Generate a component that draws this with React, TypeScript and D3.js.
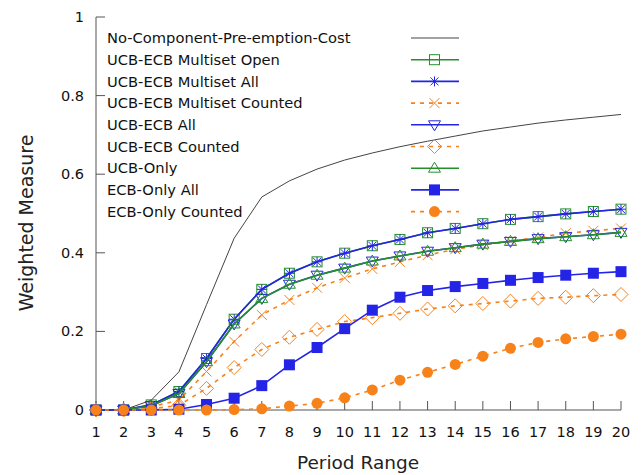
import React from "react";
import * as d3 from "d3";

const periods = [1, 2, 3, 4, 5, 6, 7, 8, 9, 10, 11, 12, 13, 14, 15, 16, 17, 18, 19, 20];
const yTicks = [0, 0.2, 0.4, 0.6, 0.8, 1];

const noPreemption = [0, 0, 0.025, 0.097, 0.268, 0.437, 0.542, 0.583, 0.613, 0.636, 0.654, 0.67, 0.684, 0.697, 0.71, 0.72, 0.73, 0.738, 0.745, 0.752];
const multisetOpen = [0, 0, 0.013, 0.047, 0.131, 0.231, 0.307, 0.348, 0.377, 0.399, 0.418, 0.434, 0.451, 0.462, 0.474, 0.485, 0.492, 0.499, 0.505, 0.511];
const multisetAll = [0, 0, 0.013, 0.047, 0.131, 0.231, 0.307, 0.348, 0.377, 0.399, 0.418, 0.434, 0.451, 0.462, 0.474, 0.485, 0.492, 0.499, 0.505, 0.511];
const multisetCounted = [0, 0, 0.008, 0.025, 0.098, 0.174, 0.242, 0.28, 0.311, 0.336, 0.359, 0.377, 0.394, 0.409, 0.42, 0.43, 0.439, 0.45, 0.456, 0.462];
const ucbEcbAll = [0, 0, 0.011, 0.042, 0.123, 0.219, 0.284, 0.32, 0.343, 0.361, 0.379, 0.392, 0.404, 0.413, 0.422, 0.429, 0.436, 0.441, 0.446, 0.452];
const ucbEcbCounted = [0, 0, 0.003, 0.012, 0.055, 0.108, 0.154, 0.185, 0.205, 0.225, 0.235, 0.246, 0.257, 0.265, 0.271, 0.277, 0.284, 0.287, 0.291, 0.294];
const ucbOnly = [0, 0, 0.011, 0.042, 0.123, 0.219, 0.284, 0.32, 0.343, 0.361, 0.379, 0.392, 0.404, 0.413, 0.422, 0.429, 0.436, 0.441, 0.446, 0.452];
const ecbOnlyAll = [0, 0, 0, 0.002, 0.014, 0.03, 0.062, 0.115, 0.159, 0.207, 0.254, 0.287, 0.304, 0.314, 0.322, 0.33, 0.337, 0.343, 0.348, 0.352];
const ecbOnlyCounted = [0, 0, 0, 0, 0, 0.001, 0.003, 0.01, 0.017, 0.031, 0.051, 0.076, 0.096, 0.116, 0.137, 0.157, 0.172, 0.181, 0.187, 0.193];

const GREEN = "#23902a";
const BLUE = "#2424e6";
const ORANGE = "#f7821a";
const BLACK = "#444";

type Marker = "none" | "square" | "star" | "x" | "tri-down" | "diamond" | "tri-up" | "square-fill" | "circle-fill";

const series: { name: string; values: number[]; color: string; dashed: boolean; marker: Marker; width: number }[] = [
  { name: "No-Component-Pre-emption-Cost", values: noPreemption, color: BLACK, dashed: false, marker: "none", width: 1 },
  { name: "UCB-ECB Multiset Open", values: multisetOpen, color: GREEN, dashed: false, marker: "square", width: 1.6 },
  { name: "UCB-ECB Multiset All", values: multisetAll, color: BLUE, dashed: false, marker: "star", width: 1.6 },
  { name: "UCB-ECB Multiset Counted", values: multisetCounted, color: ORANGE, dashed: true, marker: "x", width: 1.6 },
  { name: "UCB-ECB All", values: ucbEcbAll, color: BLUE, dashed: false, marker: "tri-down", width: 1.6 },
  { name: "UCB-ECB Counted", values: ucbEcbCounted, color: ORANGE, dashed: true, marker: "diamond", width: 1.6 },
  { name: "UCB-Only", values: ucbOnly, color: GREEN, dashed: false, marker: "tri-up", width: 1.6 },
  { name: "ECB-Only All", values: ecbOnlyAll, color: BLUE, dashed: false, marker: "square-fill", width: 1.6 },
  { name: "ECB-Only Counted", values: ecbOnlyCounted, color: ORANGE, dashed: true, marker: "circle-fill", width: 1.6 },
];

function MarkerShape({ type, x, y, color }: { type: Marker; x: number; y: number; color: string }) {
  const sw = 1;
  switch (type) {
    case "square":
      return <rect x={x - 5} y={y - 5} width={10} height={10} fill="none" stroke={color} strokeWidth={sw} />;
    case "star":
      return (
        <g stroke={color} strokeWidth={sw}>
          <line x1={x - 5} y1={y} x2={x + 5} y2={y} />
          <line x1={x} y1={y - 5} x2={x} y2={y + 5} />
          <line x1={x - 4} y1={y - 4} x2={x + 4} y2={y + 4} />
          <line x1={x - 4} y1={y + 4} x2={x + 4} y2={y - 4} />
        </g>
      );
    case "x":
      return (
        <g stroke={color} strokeWidth={sw}>
          <line x1={x - 5} y1={y - 5} x2={x + 5} y2={y + 5} />
          <line x1={x - 5} y1={y + 5} x2={x + 5} y2={y - 5} />
        </g>
      );
    case "tri-down":
      return <path d={`M${x - 6},${y - 4}L${x + 6},${y - 4}L${x},${y + 6}Z`} fill="none" stroke={color} strokeWidth={sw} />;
    case "tri-up":
      return <path d={`M${x - 6},${y + 4}L${x + 6},${y + 4}L${x},${y - 6}Z`} fill="none" stroke={color} strokeWidth={sw} />;
    case "diamond":
      return <path d={`M${x},${y - 7}L${x + 7},${y}L${x},${y + 7}L${x - 7},${y}Z`} fill="none" stroke={color} strokeWidth={sw} />;
    case "square-fill":
      return <rect x={x - 5.5} y={y - 5.5} width={11} height={11} fill={color} stroke="none" />;
    case "circle-fill":
      return <circle cx={x} cy={y} r={5.5} fill={color} />;
    default:
      return null;
  }
}

export default function App() {
  const width = 643;
  const height = 475;
  const x = d3.scaleLinear().domain([1, 20]).range([96, 621]);
  const y = d3.scaleLinear().domain([0, 1]).range([410, 17]);
  const line = d3
    .line<number>()
    .x((_, i) => x(periods[i]))
    .y((d) => y(d));

  const font = "'DejaVu Sans', sans-serif";
  const axisColor = "#555";
  const legendX0 = 411;
  const legendX1 = 459;
  const legendY0 = 38;
  const legendStep = 21.7;

  return (
    <svg
      width={width}
      height={height}
      style={{ position: "absolute", left: 0, top: 0, background: "#fff" }}
      fontFamily={font}
    >
      <rect x={0} y={0} width={width} height={height} fill="#fff" />
      {/* axes */}
      <line x1={x(1)} y1={y(1)} x2={x(1)} y2={y(0)} stroke={axisColor} strokeWidth={1} />
      <line x1={x(1)} y1={y(0)} x2={x(20)} y2={y(0)} stroke={axisColor} strokeWidth={1} />
      {yTicks.map((t) => (
        <g key={`yt${t}`}>
          <line x1={x(1)} y1={y(t)} x2={x(1) + 9} y2={y(t)} stroke={axisColor} strokeWidth={1} />
          <text x={x(1) - 12} y={y(t)} dy="0.35em" textAnchor="end" fontSize={14.5} fill="#111">
            {d3.format("~g")(t)}
          </text>
        </g>
      ))}
      {periods.map((p) => (
        <g key={`xt${p}`}>
          <line x1={x(p)} y1={y(0)} x2={x(p)} y2={y(0) - 9} stroke={axisColor} strokeWidth={1} />
          <text x={x(p)} y={437} textAnchor="middle" fontSize={14.5} fill="#111">
            {p}
          </text>
        </g>
      ))}
      <text x={358} y={469} textAnchor="middle" fontSize={18.5} fill="#222">
        Period Range
      </text>
      <text
        transform={`translate(33,223) rotate(-90)`}
        textAnchor="middle"
        fontSize={19}
        fill="#222"
      >
        Weighted Measure
      </text>

      {/* series */}
      {series.map((s) => (
        <g key={s.name}>
          <path
            d={line(s.values) || ""}
            fill="none"
            stroke={s.color}
            strokeWidth={s.width}
            strokeDasharray={s.dashed ? "4,5" : undefined}
          />
          {s.values.map((v, i) => (
            <MarkerShape key={i} type={s.marker} x={x(periods[i])} y={y(v)} color={s.color} />
          ))}
        </g>
      ))}

      {/* legend */}
      {series.map((s, i) => {
        const ly = legendY0 + i * legendStep;
        return (
          <g key={`lg${s.name}`}>
            <text x={107} y={ly} dy="0.35em" fontSize={14.7} fill="#111">
              {s.name}
            </text>
            <line
              x1={legendX0}
              y1={ly}
              x2={legendX1}
              y2={ly}
              stroke={s.color}
              strokeWidth={s.width}
              strokeDasharray={s.dashed ? "4,5" : undefined}
            />
            <MarkerShape type={s.marker} x={(legendX0 + legendX1) / 2 - 0.5} y={ly} color={s.color} />
          </g>
        );
      })}
    </svg>
  );
}
